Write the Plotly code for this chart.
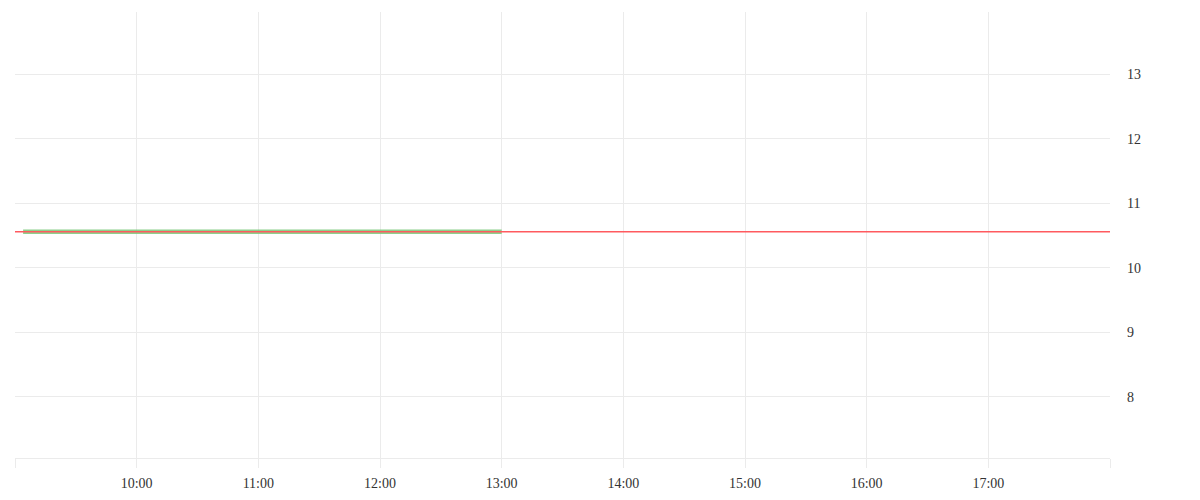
import plotly.graph_objects as go

# Data
day = "2024-01-02"
price_times = [f"{day} 09:04", f"{day} 10:00", f"{day} 11:00", f"{day} 12:00", f"{day} 13:00"]
price_values = [10.56, 10.56, 10.56, 10.56, 10.56]
ref_times = [f"{day} 09:00", f"{day} 18:00"]
ref_values = [10.56, 10.56]
tick_hours = ["09:00", "10:00", "11:00", "12:00", "13:00", "14:00", "15:00", "16:00", "17:00", "18:00"]
tick_labels = ["", "10:00", "11:00", "12:00", "13:00", "14:00", "15:00", "16:00", "17:00", ""]
y_ticks = [8, 9, 10, 11, 12, 13]

fig = go.Figure()
fig.add_trace(go.Scatter(
    x=price_times, y=price_values, mode="lines",
    line=dict(color="rgba(120,200,120,0.85)", width=4.5),
    hoverinfo="skip", showlegend=False,
))
fig.add_trace(go.Scatter(
    x=ref_times, y=ref_values, mode="lines",
    line=dict(color="#ff5a5f", width=1.5),
    hoverinfo="skip", showlegend=False,
))

fig.update_layout(
    width=1200, height=500,
    margin=dict(l=7, r=98, t=4, b=50),
    paper_bgcolor="white", plot_bgcolor="white",
    font=dict(family="Liberation Serif", size=14, color="#333333"),
    showlegend=False,
    xaxis=dict(
        type="date",
        range=[f"{day} 09:00", f"{day} 18:00"],
        tickvals=[f"{day} {h}" for h in tick_hours],
        ticktext=tick_labels,
        showgrid=True, gridcolor="#ebebeb", gridwidth=1,
        ticks="outside", ticklen=9, tickcolor="#ebebeb", tickwidth=1,
        showline=True, linecolor="#ebebeb", linewidth=1,
        zeroline=False,
        ticklabelstandoff=3,
        fixedrange=True,
    ),
    yaxis=dict(
        side="right",
        range=[7.05, 13.97],
        tickvals=y_ticks,
        ticktext=[str(v) for v in y_ticks],
        showgrid=True, gridcolor="#ebebeb", gridwidth=1,
        showline=False, zeroline=False,
        ticks="", ticklabelstandoff=16,
        fixedrange=True,
    ),
)

fig.write_html("out.html")
